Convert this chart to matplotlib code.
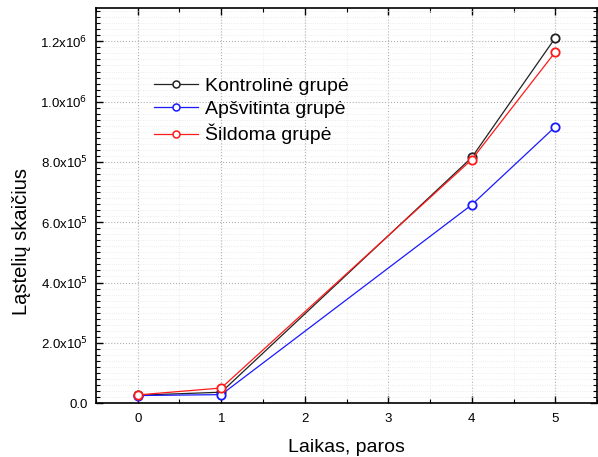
import numpy as np
import matplotlib.pyplot as plt
from matplotlib.ticker import MultipleLocator, FuncFormatter

plt.rcParams['font.family'] = ['Liberation Sans', 'DejaVu Sans']

days = [0, 1, 4, 5]
xticks = [0, 1, 2, 3, 4, 5]
kontroline = [26000, 36000, 815000, 1212000]
apsvitinta = [25000, 28000, 658000, 917000]
sildoma = [27000, 50000, 808000, 1165000]
labels = ['Kontrolinė grupė', 'Apšvitinta grupė', 'Šildoma grupė']
colors = ['#222222', '#1a1aff', '#ff1a1a']


def sci_fmt(v, pos):
    if v <= 0:
        return '0.0' if abs(v) < 1 else ''
    exp = int(np.floor(np.log10(v)))
    return r'%.1fx10$^{%d}$' % (v / 10 ** exp, exp)


fig = plt.figure(figsize=(5.98, 4.57), dpi=100)
ax = fig.add_axes([0.1605, 0.118, 0.838, 0.864])

for ys, lab, c in zip([kontroline, apsvitinta, sildoma], labels, colors):
    ax.plot(days, ys, '-o', color=c, lw=0.9, ms=6, mfc='white', mew=1.3, label=lab)

ax.set_xlim(-0.5, 5.5)
ax.set_ylim(0, 1.31e6)
ax.set_xticks(xticks)
ax.xaxis.set_minor_locator(MultipleLocator(0.5))
ax.yaxis.set_major_locator(MultipleLocator(2e5))
ax.yaxis.set_minor_locator(MultipleLocator(2e4))
ax.yaxis.set_major_formatter(FuncFormatter(sci_fmt))

ax.grid(which='major', color='#b0b0b0', ls=':', lw=0.8)
ax.grid(which='minor', color='#e6e6e6', ls=':', lw=0.6)
ax.tick_params(which='both', direction='in', top=True, right=True, labelsize=9.5)
ax.tick_params(axis='y', pad=6)
ax.tick_params(axis='x', pad=7)
ax.tick_params(which='major', length=5, width=1)
ax.tick_params(which='minor', length=3, width=0.8)
for s in ax.spines.values():
    s.set_linewidth(1.2)

ax.set_xlabel('Laikas, paros', fontsize=14)
ax.xaxis.set_label_coords(0.5, -0.092)
ax.set_ylabel('Ląstelių skaičius', fontsize=14.5)
ax.yaxis.set_label_coords(-0.13, 0.41)

leg = ax.legend(loc='upper left', bbox_to_anchor=(0.08, 0.87), frameon=False, fontsize=14,
                handlelength=2.27, labelspacing=0.3, handletextpad=0.4)
for h in leg.legend_handles:
    h.set_markersize(5)
    h.set_markeredgewidth(1.1)

fig.savefig('out.png', dpi=100)
